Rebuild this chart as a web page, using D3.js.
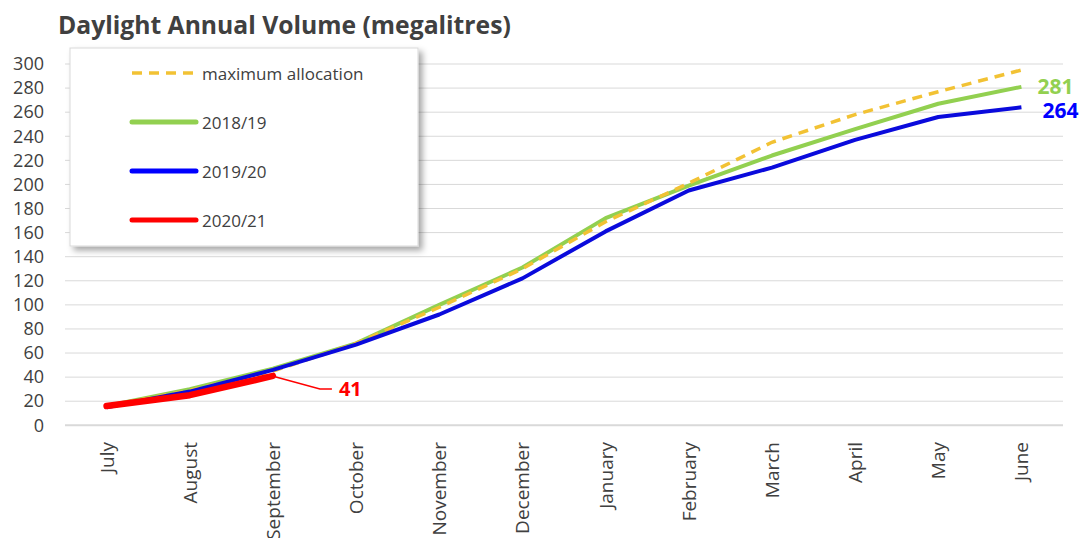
<!DOCTYPE html>
<html><head><meta charset="utf-8">
<script src="https://cdn.jsdelivr.net/npm/d3@7"></script>
<style>body{margin:0;background:#fff;}svg{display:block;font-family:"Open Sans",sans-serif;}</style>
</head><body><svg id="c" width="1087" height="538"></svg>
<script>
const months = ["July","August","September","October","November","December","January","February","March","April","May","June"];
const yTicks = [0,20,40,60,80,100,120,140,160,180,200,220,240,260,280,300];
const maxAllocation = [16,29,45,68,98,130,169,201,235,258,277,295];
const s2018 = [16,30,47,68,100,131,172,199,224,246,267,281];
const s2019 = [15,28,46,67,92,122,161,195,214,237,256,264];
const s2020 = [16,25,41];
const legendLabels = ["maximum allocation","2018/19","2019/20","2020/21"];

const svg = d3.select("#c");
const x = d3.scalePoint().domain(months).range([65,1063]).padding(0.5);
const y = d3.scaleLinear().domain([0,300]).range([425.3,64]);

const defs = svg.append("defs");
const f = defs.append("filter").attr("id","sh").attr("x","-10%").attr("y","-10%").attr("width","130%").attr("height","130%");
f.append("feDropShadow").attr("dx",4).attr("dy",4).attr("stdDeviation",3).attr("flood-color","#000").attr("flood-opacity",0.35);

svg.append("text").attr("x",58).attr("y",34).attr("font-weight","bold").attr("font-size",24.7).attr("fill","#404040")
  .text("Daylight Annual Volume (megalitres)");

svg.append("g").selectAll("line").data(yTicks).join("line")
  .attr("x1",65).attr("x2",1063).attr("y1",d=>y(d)).attr("y2",d=>y(d))
  .attr("stroke","#d9d9d9").attr("stroke-width",d=>d===0?2:1);

const ya = svg.append("g").attr("transform","translate(44,0)")
  .call(d3.axisLeft(y).tickValues(yTicks).tickSize(0).tickPadding(0));
ya.select(".domain").remove();
ya.selectAll("text").attr("font-family","Open Sans").attr("font-size",18).attr("fill","#404040");

svg.append("g").selectAll("text").data(months).join("text")
  .attr("transform",d=>`translate(${x(d)},442) rotate(-90)`)
  .attr("text-anchor","end").attr("dominant-baseline","central")
  .attr("font-size",19).attr("fill","#404040").text(d=>d);

const line = d3.line().x((d,i)=>x(months[i])).y(d=>y(d));

svg.append("path").datum(s2018).attr("d",line).attr("fill","none").attr("stroke","#92D050").attr("stroke-width",4).attr("stroke-linejoin","round");
svg.append("path").datum(maxAllocation).attr("d",line).attr("fill","none").attr("stroke","#F2C234").attr("stroke-width",3.5).attr("stroke-dasharray","10,7");
svg.append("path").datum(s2019).attr("d",line).attr("fill","none").attr("stroke","#0A0ADC").attr("stroke-width",4).attr("stroke-linejoin","round");
svg.append("path").datum(s2020).attr("d",line).attr("fill","none").attr("stroke","#FF0000").attr("stroke-width",6.5).attr("stroke-linecap","round").attr("stroke-linejoin","round");

const lastI = months.length-1;
svg.append("text").attr("x",x(months[lastI])+16).attr("y",y(s2018[lastI])-1).attr("dominant-baseline","central")
  .attr("font-weight","bold").attr("font-size",21).attr("fill","#92D050").text(s2018[lastI]);
svg.append("text").attr("x",x(months[lastI])+21).attr("y",y(s2019[lastI])+3).attr("dominant-baseline","central")
  .attr("font-weight","bold").attr("font-size",21).attr("fill","#0000FF").text(s2019[lastI]);

const ri = s2020.length-1;
const px = x(months[ri]), py = y(s2020[ri]);
svg.append("polyline").attr("points",`${px+3},${py+1} ${px+47},${py+13} ${px+59},${py+13}`)
  .attr("fill","none").attr("stroke","#FF0000").attr("stroke-width",1.5);
svg.append("text").attr("x",px+66).attr("y",py+13).attr("dominant-baseline","central")
  .attr("font-weight","bold").attr("font-size",20).attr("fill","#FF0000").text(s2020[ri]);

const lg = svg.append("g");
lg.append("rect").attr("x",70).attr("y",48).attr("width",348).attr("height",198).attr("fill","#fff").attr("stroke","#d9d9d9").attr("filter","url(#sh)");
const lStyles = [
  {c:"#F2C234",w:3.5,d:"10,7"},
  {c:"#92D050",w:5,d:null},
  {c:"#0000FF",w:5,d:null},
  {c:"#FF0000",w:5,d:null}];
legendLabels.forEach((t,i)=>{
  const ly = 73 + i*49;
  const l = lg.append("line").attr("x1",132).attr("x2",196).attr("y1",ly).attr("y2",ly)
    .attr("stroke",lStyles[i].c).attr("stroke-width",lStyles[i].w).attr("stroke-linecap",lStyles[i].d?"butt":"round");
  if(lStyles[i].d) l.attr("stroke-dasharray",lStyles[i].d);
  lg.append("text").attr("x",202).attr("y",ly).attr("dominant-baseline","central").attr("font-size",17).attr("fill","#404040").text(t);
});
</script></body></html>
